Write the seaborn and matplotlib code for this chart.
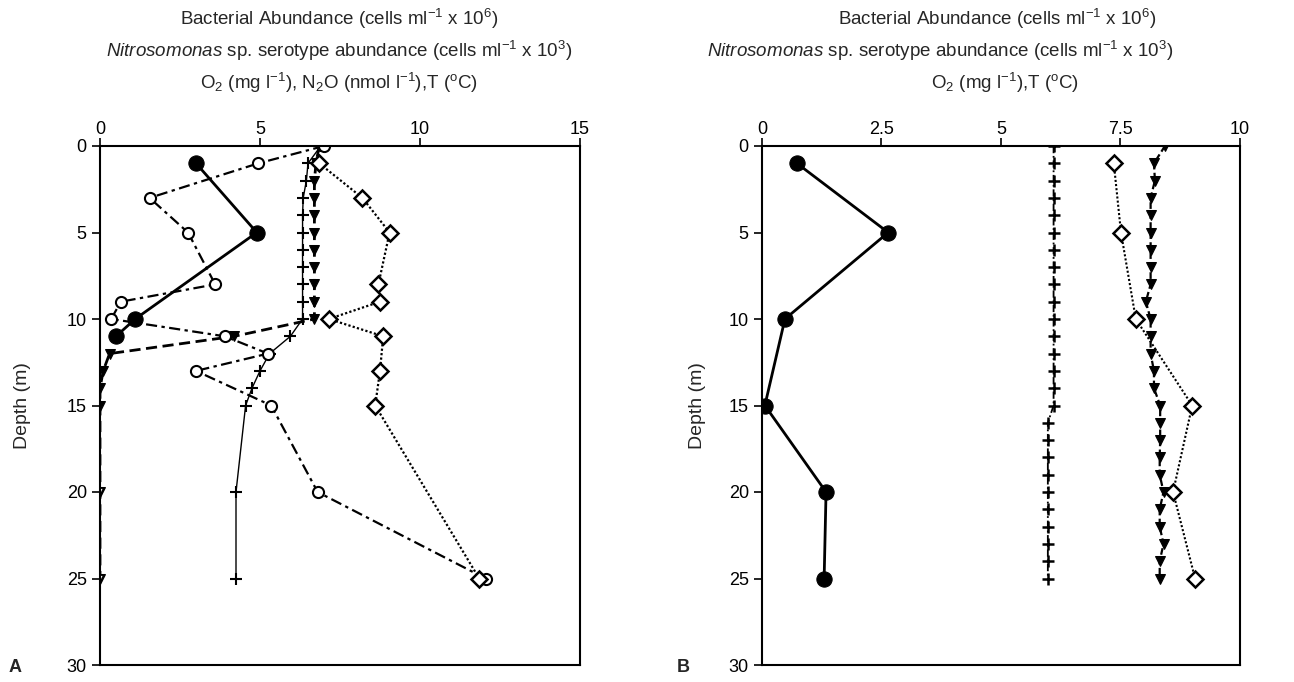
import numpy as np
import pandas as pd
import seaborn as sns
import matplotlib.pyplot as plt

# ---- panel A ----
depth_a_bact = [1, 5, 10, 11]
bact_a = [3.0, 4.9, 1.1, 0.5]

depth_a_n2o = [0, 1, 3, 5, 8, 9, 10, 11, 12, 13, 15, 20, 25]
n2o_a = [7.0, 4.95, 1.55, 2.75, 3.6, 0.65, 0.35, 3.9, 5.25, 3.0, 5.35, 6.8, 12.05]

depth_a_o2 = [0, 1, 2, 3, 4, 5, 6, 7, 8, 9, 10, 11, 12, 13, 14, 15, 20, 25]
o2_a = [6.85, 6.75, 6.7, 6.7, 6.7, 6.7, 6.7, 6.7, 6.7, 6.7, 6.7, 4.2, 0.3, 0.1, 0.0, 0.0, 0.0, 0.0]

depth_a_temp = [0, 1, 2, 3, 4, 5, 6, 7, 8, 9, 10, 11, 12, 13, 14, 15, 20, 25]
temp_a = [6.9, 6.5, 6.45, 6.35, 6.33, 6.33, 6.33, 6.33, 6.33, 6.33, 6.33, 5.95, 5.3, 5.0, 4.75, 4.55, 4.25, 4.25]

depth_a_nitro = [1, 3, 5, 8, 9, 10, 11, 13, 15, 25]
nitro_a = [6.85, 8.2, 9.05, 8.7, 8.75, 7.15, 8.85, 8.75, 8.6, 11.85]

# ---- panel B ----
depth_b_bact = [1, 5, 10, 15, 20, 25]
bact_b = [0.73, 2.64, 0.48, 0.06, 1.34, 1.3]

depth_b = list(range(0, 26))
temp_b = [6.1] * 16 + [5.98] * 10
o2_b = [8.43, 8.2, 8.22, 8.13, 8.13, 8.13, 8.13, 8.13, 8.13, 8.03, 8.13, 8.13, 8.13,
        8.2, 8.2, 8.33, 8.33, 8.33, 8.32, 8.32, 8.4, 8.32, 8.32, 8.4, 8.32, 8.32]

depth_b_nitro = [1, 5, 10, 15, 20, 25]
nitro_b = [7.36, 7.51, 7.82, 9.0, 8.6, 9.06]

sns.set_style("ticks")
plt.rcParams["font.family"] = ["Liberation Sans", "DejaVu Sans"]
plt.rcParams["mathtext.fontset"] = "custom"
plt.rcParams["mathtext.rm"] = "Liberation Sans"
plt.rcParams["mathtext.it"] = "Liberation Sans:italic"

fig = plt.figure(figsize=(12.94, 6.82), dpi=100)
ax_a = fig.add_axes([100 / 1294, 1 - 665 / 682, 480 / 1294, 519 / 682])
ax_b = fig.add_axes([762 / 1294, 1 - 665 / 682, 478 / 1294, 519 / 682])


def series(ax, x, y, **kw):
    kw.setdefault("color", "black")
    kw.setdefault("markeredgecolor", "black")
    sns.lineplot(x=x, y=y, orient="y", sort=False, estimator=None,
                 errorbar=None, ax=ax, **kw)


# panel A lines
series(ax_a, temp_a, depth_a_temp, linewidth=1.0, marker="+", markersize=8,
       markeredgewidth=1.5)
series(ax_a, o2_a, depth_a_o2, linewidth=2.0, linestyle=(0, (4, 2)), marker="v",
       markersize=7)
series(ax_a, [o2_a[-2], o2_a[-1]], [depth_a_o2[-2], depth_a_o2[-1]], linewidth=0,
       marker="v", markersize=6, markerfacecolor="white", markeredgewidth=1.3)
series(ax_a, n2o_a, depth_a_n2o, linewidth=1.6, linestyle=(0, (5, 2, 1.5, 2)),
       marker="o", markersize=8, markerfacecolor="white", markeredgewidth=1.5)
series(ax_a, nitro_a, depth_a_nitro, linewidth=1.6, linestyle=(0, (1, 1)),
       marker="D", markersize=8, markerfacecolor="white", markeredgewidth=1.8)
series(ax_a, bact_a, depth_a_bact, linewidth=2.0, marker="o", markersize=11)

# panel B lines
series(ax_b, temp_b, depth_b, linewidth=1.3, linestyle=(0, (4, 1.5, 1, 1.5)),
       marker="+", markersize=8, markeredgewidth=1.8)
series(ax_b, o2_b, depth_b, linewidth=1.6, linestyle=(0, (3, 1.5)), marker="v",
       markersize=7)
series(ax_b, nitro_b, depth_b_nitro, linewidth=1.5, linestyle=(0, (1, 1)),
       marker="D", markersize=8, markerfacecolor="white", markeredgewidth=1.8)
series(ax_b, bact_b, depth_b_bact, linewidth=2.0, marker="o", markersize=11)

for ax, xmax, xticks, xlabels, lpad in [
    (ax_a, 15, [0, 5, 10, 15], ["0", "5", "10", "15"], 26),
    (ax_b, 10, [0, 2.5, 5, 7.5, 10], ["0", "2.5", "5", "7.5", "10"], 16),
]:
    ax.set_xlim(0, xmax)
    ax.set_ylim(30, 0)
    ax.set_xticks(xticks)
    ax.set_xticklabels(xlabels)
    ax.set_yticks([0, 5, 10, 15, 20, 25, 30])
    ax.xaxis.tick_top()
    ax.tick_params(axis="both", direction="out", length=6, width=1.2,
                   labelsize=13, colors="black")
    ax.tick_params(axis="x", pad=0)
    ax.set_xlabel("")
    ax.set_ylabel("Depth (m)", fontsize=14, labelpad=lpad)
    for s in ax.spines.values():
        s.set_visible(True)
        s.set_linewidth(1.5)
        s.set_color("black")

# titles
fs = 13.5
title_a = [r"Bacterial Abundance (cells ml$^{-1}$ x 10$^{6}$)",
           r"$\mathit{Nitrosomonas}$ sp. serotype abundance (cells ml$^{-1}$ x 10$^{3}$)",
           r"O$_{2}$ (mg l$^{-1}$), N$_{2}$O (nmol l$^{-1}$),T ($^{\mathrm{o}}$C)"]
title_b = [r"Bacterial Abundance (cells ml$^{-1}$ x 10$^{6}$)",
           r"$\mathit{Nitrosomonas}$ sp. serotype abundance (cells ml$^{-1}$ x 10$^{3}$)",
           r"O$_{2}$ (mg l$^{-1}$),T ($^{\mathrm{o}}$C)"]
centers_b = [997, 940, 1005]
for i, (ta, tb) in enumerate(zip(title_a, title_b)):
    yy = 1 - (19 + 32 * i) / 682
    fig.text(339 / 1294, yy, ta, ha="center", va="center", fontsize=fs)
    fig.text(centers_b[i] / 1294, yy, tb, ha="center", va="center", fontsize=fs)

fig.text(15 / 1294, 1 - 667 / 682, "A", fontsize=13, fontweight="bold",
         ha="center", va="center")
fig.text(683 / 1294, 1 - 667 / 682, "B", fontsize=13, fontweight="bold",
         ha="center", va="center")

fig.savefig("out.png", dpi=100, facecolor="white")
